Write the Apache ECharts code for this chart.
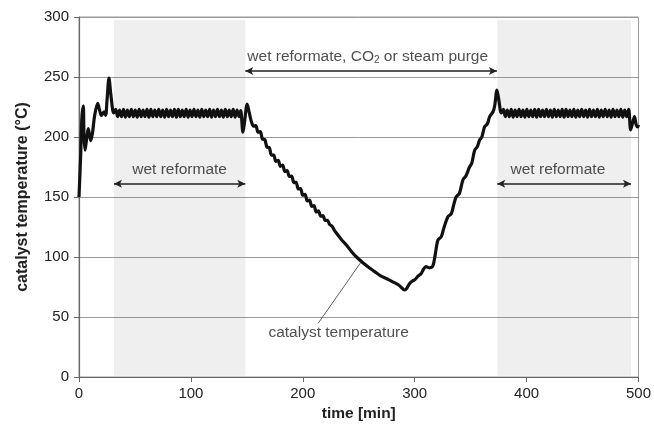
<!DOCTYPE html>
<html>
<head>
<meta charset="utf-8">
<script src="https://cdn.jsdelivr.net/npm/echarts@6/dist/echarts.min.js"></script>
<style>
  html, body { margin: 0; padding: 0; background: #fff; }
  #chart { width: 654px; height: 432px; }
</style>
</head>
<body>
<div id="chart"></div>
<script>
// Catalyst temperature log, segment by segment (time in min, temperature in °C)
const startTime = [0, 1.5, 2.5, 3.8, 4.5, 5.4, 7, 8.3, 10.4, 12, 14, 16.7, 18.5, 20, 22.3, 23.8, 25, 26.8, 28.5, 31];
const startTemp = [150, 185, 215, 226, 200, 189, 200, 207, 197, 203, 218, 228, 222, 218, 221, 218, 230, 249, 235, 220];

const plateau1Time = [32.75, 34.5, 36.25, 38, 39.75, 41.5, 43.25, 45, 46.75, 48.5,
  50.25, 52, 53.75, 55.5, 57.25, 59, 60.75, 62.5, 64.25, 66,
  67.75, 69.5, 71.25, 73, 74.75, 76.5, 78.25, 80, 81.75, 83.5,
  85.25, 87, 88.75, 90.5, 92.25, 94, 95.75, 97.5, 99.25, 101,
  102.75, 104.5, 106.25, 108, 109.75, 111.5, 113.25, 115, 116.75, 118.5,
  120.25, 122, 123.75, 125.5, 127.25, 129, 130.75, 132.5, 134.25, 136,
  137.75, 139.5, 141.25, 143];
const plateau1Temp = [223, 217, 222.5, 217, 223, 216.5, 222.5, 217, 223, 217,
  222.5, 216.5, 223, 217, 222.5, 217, 223, 216.5, 223, 217,
  222.5, 217, 223, 217, 222.5, 216.5, 223, 217, 222.5, 217,
  223, 216.5, 223, 217, 222.5, 217, 223, 216.5, 222.5, 217,
  223, 217, 222.5, 216.5, 223, 217, 222.5, 217, 223, 216.5,
  222.5, 217, 223, 217, 222.5, 216.5, 223, 217, 222.5, 217,
  223, 216.5, 222.5, 217];

const switch1Time = [144.5, 146.5, 148, 150.3, 152, 154];
const switch1Temp = [222, 204, 213, 227.5, 221, 213];

const coolTime = [156, 158, 160, 162, 164, 166, 168, 170, 172, 174,
  176, 178, 180, 182, 184, 186, 188, 190, 192, 194,
  196, 198, 200, 202, 204, 206, 208, 210, 212, 214,
  216, 218, 220, 222, 224, 226, 228, 230, 235, 239,
  244, 248, 254, 260, 264, 270, 276, 280, 286, 291];
const coolTemp = [209, 209.5, 204, 204.5, 198.2, 197.9, 191.5, 191.2, 185, 184.9,
  179.7, 180.5, 175.6, 176.5, 171.3, 172.1, 167, 167.5, 162, 162.3,
  156.7, 157.1, 151.5, 152.2, 146.8, 147.5, 142.2, 142.8, 137.5, 138.5,
  134, 134.5, 130.5, 130.5, 127, 125.8, 122.7, 120, 114, 110,
  104, 100, 95, 90.6, 88, 84, 81.5, 79.5, 76.5, 72.5];

const heatTime = [293, 295.5, 298, 300, 303, 306, 308, 310, 313, 316,
  318, 320.7, 323.8, 326, 329.7, 332.7, 335, 337, 340, 343,
  346, 349, 351, 353.6, 356, 358, 360, 362.5, 365, 367,
  370, 371.5, 373.5, 375, 377.4];
const heatTemp = [74, 78, 80, 81, 84, 86.5, 90, 92, 91, 92,
  100, 114, 117, 124, 133.6, 136, 144, 150, 153, 164,
  168, 175, 178, 189, 192, 197.5, 200, 208.6, 211, 217,
  221, 226, 239, 232, 220];

const plateau2Time = [379.25, 381, 382.75, 384.5, 386.25, 388, 389.75, 391.5, 393.25, 395,
  396.75, 398.5, 400.25, 402, 403.75, 405.5, 407.25, 409, 410.75, 412.5,
  414.25, 416, 417.75, 419.5, 421.25, 423, 424.75, 426.5, 428.25, 430,
  431.75, 433.5, 435.25, 437, 438.75, 440.5, 442.25, 444, 445.75, 447.5,
  449.25, 451, 452.75, 454.5, 456.25, 458, 459.75, 461.5, 463.25, 465,
  466.75, 468.5, 470.25, 472, 473.75, 475.5, 477.25, 479, 480.75, 482.5,
  484.25, 486, 487.75, 489.5, 491.25];
const plateau2Temp = [223, 217, 222.5, 217, 223, 216.5, 222.5, 217, 223, 217,
  222.5, 216.5, 223, 217, 222.5, 217, 223, 216.5, 223, 217,
  222.5, 217, 223, 217, 222.5, 216.5, 223, 217, 222.5, 217,
  223, 216.5, 223, 217, 222.5, 217, 223, 216.5, 222.5, 217,
  223, 217, 222.5, 216.5, 223, 217, 222.5, 217, 223, 216.5,
  222.5, 217, 223, 217, 222.5, 216.5, 223, 217, 222.5, 217,
  223, 216.5, 222.5, 217, 223];

const endTime = [493, 494.8, 496.4, 498, 499.4, 500];
const endTemp = [206, 212, 217, 210, 208.5, 210];

// Shaded "wet reformate" phases [from, to] in min
const wetPhases = [[31.25, 148.6], [373.8, 493.4]];
const shadeRange = [1, 297.5];

// Double arrows: [from, to, level]
const phaseArrows = [[31.25, 148.6, 161], [148.6, 373.5, 255], [373.8, 493.3, 161]];

// Text annotations: [time, temperature, text]
const notes = [
  [89.9, 173, 'wet reformate'],
  [258, 267, 'wet reformate, CO{sub|2} or steam purge'],
  [428, 173, 'wet reformate'],
  [232, 36.5, 'catalyst temperature']
];
// Pointer from the curve label to the curve
const pointer = [[213.7, 44.7], [251.5, 95]];

const xTicks = { min: 0, max: 500, interval: 100 };
const yTicks = { min: 0, max: 300, interval: 50 };

const times = [].concat(startTime, plateau1Time, switch1Time, coolTime, heatTime, plateau2Time, endTime);
const temps = [].concat(startTemp, plateau1Temp, switch1Temp, coolTemp, heatTemp, plateau2Temp, endTemp);
const curve = times.map((t, i) => [t, temps[i]]);

const FONT = 'Liberation Sans, Arial, sans-serif';
const chart = echarts.init(document.getElementById('chart'), null, { renderer: 'canvas' });

chart.setOption({
  animation: false,
  backgroundColor: '#fff',
  grid: {
    left: 79, right: 15, top: 17, bottom: 55,
    show: true, borderColor: '#9a9a9a', borderWidth: 1, backgroundColor: 'transparent'
  },
  xAxis: {
    type: 'value',
    min: xTicks.min, max: xTicks.max, interval: xTicks.interval,
    name: 'time [min]',
    nameLocation: 'middle',
    nameGap: 28,
    nameTextStyle: { fontFamily: FONT, fontSize: 15.5, fontWeight: 'bold', color: '#222' },
    axisLine: { show: true, lineStyle: { color: '#666', width: 1.2 } },
    axisTick: { show: true, length: 5, lineStyle: { color: '#666' } },
    axisLabel: { fontFamily: FONT, fontSize: 15, color: '#222', margin: 9 },
    splitLine: { show: false }
  },
  yAxis: {
    type: 'value',
    min: yTicks.min, max: yTicks.max, interval: yTicks.interval,
    name: 'catalyst temperature (°C)',
    nameLocation: 'middle',
    nameGap: 48,
    nameRotate: 90,
    nameTextStyle: { fontFamily: FONT, fontSize: 16, fontWeight: 'bold', color: '#222' },
    axisLine: { show: true, lineStyle: { color: '#666', width: 1.2 } },
    axisTick: { show: true, length: 5, lineStyle: { color: '#666' } },
    axisLabel: { fontFamily: FONT, fontSize: 15, color: '#222', margin: 10 },
    splitLine: { show: true, lineStyle: { color: '#9a9a9a', width: 1 } }
  },
  series: [
    {
      name: 'phases',
      type: 'line',
      data: [],
      silent: true,
      z: 1,
      markArea: {
        silent: true,
        itemStyle: { color: 'rgba(120,120,120,0.12)' },
        label: { show: false },
        data: wetPhases.map(p => [{ coord: [p[0], shadeRange[0]] }, { coord: [p[1], shadeRange[1]] }])
      }
    },
    {
      name: 'catalyst temperature',
      type: 'line',
      data: curve,
      showSymbol: false,
      symbol: 'none',
      smooth: 0.3,
      z: 5,
      lineStyle: { color: '#111', width: 3.2, join: 'round' }
    },
    {
      name: 'arrows',
      type: 'line',
      data: [],
      silent: true,
      z: 4,
      markLine: {
        silent: true,
        symbol: ['arrow', 'arrow'],
        symbolSize: [6, 8],
        label: { show: false },
        lineStyle: { color: '#222', width: 1.5, type: 'solid' },
        data: phaseArrows.map(a => [{ coord: [a[0], a[2]] }, { coord: [a[1], a[2]] }])
      }
    },
    {
      name: 'pointer',
      type: 'line',
      data: [],
      silent: true,
      z: 4,
      markLine: {
        silent: true,
        symbol: ['none', 'none'],
        label: { show: false },
        lineStyle: { color: '#333', width: 0.8, type: 'solid' },
        data: [[{ coord: pointer[0] }, { coord: pointer[1] }]]
      }
    },
    {
      name: 'notes',
      type: 'scatter',
      data: notes,
      symbolSize: 0,
      silent: true,
      z: 6,
      label: {
        show: true,
        position: 'inside',
        formatter: p => p.data[2],
        fontFamily: FONT,
        fontSize: 15.5,
        color: '#222',
        rich: {
          sub: { fontFamily: FONT, fontSize: 10, color: '#222', verticalAlign: 'bottom', padding: [8, 0, 0, 0] }
        }
      }
    }
  ]
});
</script>
</body>
</html>
